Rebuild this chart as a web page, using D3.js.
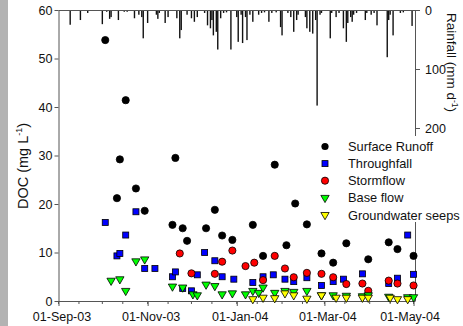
<!DOCTYPE html>
<html><head><meta charset="utf-8">
<script src="https://cdnjs.cloudflare.com/ajax/libs/d3/7.8.5/d3.min.js"></script>
<style>body{margin:0;background:#fff}svg{display:block;font-family:"Liberation Sans",Arial,sans-serif}</style>
</head><body><svg id="c" width="463" height="326"></svg>
<script>
// ---- data ----
const xTickDates = ["2003-09-01","2003-11-01","2004-01-01","2004-03-01","2004-05-01"];
const docTicks = [0,10,20,30,40,50,60];
const rainTicks = [0,100,200];

const surfaceDates = ["2003-10-03","2003-10-11","2003-10-13","2003-10-17","2003-10-24","2003-10-30","2003-11-18","2003-11-20","2003-11-25","2003-11-28","2003-12-11","2003-12-17","2003-12-22","2003-12-29","2004-01-12","2004-01-19","2004-01-27","2004-02-04","2004-02-10","2004-02-18","2004-02-28","2004-03-07","2004-03-16","2004-03-31","2004-04-14","2004-04-20","2004-05-01"];
const surfaceDOC = [53.8,21.2,29.2,41.4,23.2,18.6,15.7,29.5,15.0,12.4,15.0,18.8,13.5,12.6,15.7,9.3,28.1,11.5,20.1,15.8,9.8,7.9,11.9,8.6,12.1,10.7,9.3];

const throughDates = ["2003-10-03","2003-10-11","2003-10-13","2003-10-17","2003-10-24","2003-10-30","2003-11-06","2003-11-18","2003-11-20","2003-11-25","2003-12-01","2003-12-05","2003-12-10","2003-12-17","2003-12-22","2003-12-30","2004-01-12","2004-01-19","2004-01-26","2004-02-03","2004-02-09","2004-02-18","2004-02-28","2004-03-07","2004-03-14","2004-03-27","2004-04-14","2004-04-20","2004-04-27","2004-05-01"];
const throughDOC = [16.2,9.3,9.8,13.6,18.4,6.7,6.7,5.0,6.0,2.6,2.1,5.4,10.0,8.3,5.0,4.5,3.8,5.0,5.4,4.5,4.0,4.8,3.2,4.0,4.5,5.6,3.6,4.7,13.6,5.5];

const stormDates = ["2003-11-23","2003-12-01","2003-12-17","2003-12-22","2003-12-29","2004-01-07","2004-01-13","2004-01-19","2004-01-27","2004-02-03","2004-02-09","2004-02-18","2004-02-28","2004-03-07","2004-03-16","2004-03-27","2004-03-31","2004-04-14","2004-04-20","2004-05-01"];
const stormDOC = [9.8,5.7,5.6,8.1,10.4,7.2,7.9,4.3,9.3,6.7,4.9,5.8,5.6,4.9,3.5,3.6,2.1,4.2,3.6,3.2];

const baseDates = ["2003-10-07","2003-10-13","2003-10-17","2003-10-24","2003-10-30","2003-11-18","2003-11-25","2003-12-02","2003-12-05","2003-12-11","2003-12-17","2003-12-22","2003-12-29","2004-01-07","2004-01-12","2004-01-16","2004-01-19","2004-01-27","2004-02-03","2004-02-09","2004-02-18","2004-02-28","2004-03-07","2004-03-16","2004-03-27","2004-03-31","2004-04-14","2004-04-27","2004-05-01"];
const baseDOC = [4.2,4.5,2.1,8.2,8.6,3.0,2.8,1.4,1.2,3.4,3.1,1.4,1.6,1.4,2.1,1.7,2.8,1.7,2.1,1.9,2.1,1.2,1.2,1.1,1.0,1.2,0.9,0.8,0.8];

const seepDates = ["2004-01-12","2004-01-19","2004-01-27","2004-02-03","2004-02-09","2004-02-18","2004-02-28","2004-03-09","2004-03-16","2004-03-27","2004-03-31","2004-04-15","2004-04-20","2004-04-27"];
const seepDOC = [0.4,0.7,0.6,1.6,1.2,0.5,1.2,0.7,0.7,0.7,0.7,0.7,0.4,0.4];

const rainDates = ["2003-09-09","2003-09-16","2003-09-21","2003-10-01","2003-10-04","2003-10-06","2003-10-07","2003-10-12","2003-10-16","2003-10-18","2003-10-23","2003-10-26","2003-10-28","2003-10-29","2003-11-01","2003-11-07","2003-11-08","2003-11-09","2003-11-13","2003-11-15","2003-11-21","2003-11-23","2003-11-24","2003-11-28","2003-12-01","2003-12-03","2003-12-05","2003-12-10","2003-12-12","2003-12-14","2003-12-15","2003-12-16","2003-12-18","2003-12-19","2003-12-21","2003-12-23","2003-12-25","2003-12-28","2004-01-01","2004-01-02","2004-01-04","2004-01-05","2004-01-07","2004-01-08","2004-01-10","2004-01-12","2004-01-16","2004-01-18","2004-01-20","2004-01-23","2004-01-25","2004-01-28","2004-01-31","2004-02-01","2004-02-05","2004-02-07","2004-02-09","2004-02-11","2004-02-12","2004-02-17","2004-02-18","2004-02-20","2004-02-22","2004-02-24","2004-02-25","2004-02-27","2004-02-28","2004-03-05","2004-03-06","2004-03-09","2004-03-11","2004-03-14","2004-03-16","2004-03-17","2004-03-19","2004-03-20","2004-03-21","2004-03-23","2004-03-29","2004-03-30","2004-04-02","2004-04-04","2004-04-06","2004-04-13","2004-04-14","2004-04-15","2004-04-17","2004-04-22","2004-04-24","2004-04-30"];
const rainMM = [25,17,5,24,3,15,12,17,3,3,14,8,12,48,22,8,15,5,22,12,14,48,34,8,14,20,12,5,26,31,17,43,37,67,14,5,4,67,12,54,8,56,12,51,8,20,8,5,4,20,5,4,29,43,5,12,37,17,8,12,31,37,40,17,162,8,5,48,5,12,5,31,54,22,12,20,8,5,17,5,8,5,26,80,17,8,43,5,4,27];

const legendNames = ["Surface Runoff","Throughfall","Stormflow","Base flow","Groundwater seeps"];

// ---- drawing ----
const parse = d3.timeParse("%Y-%m-%d");
const svg = d3.select("#c");
const L = 58.5, R = 415, T = 10, B = 301;

svg.append("rect").attr("x",0).attr("y",0).attr("width",8).attr("height",326).attr("fill","#b3b3b3");

const x = d3.scaleTime().domain([parse("2003-09-01"), parse("2004-05-02")]).range([L, R]);
const y = d3.scaleLinear().domain([0,60]).range([B, T]);
const yr = d3.scaleLinear().domain([0,200]).range([T, 128]);

const axisCol = "#555", txtCol = "#111";

// rainfall bars
svg.append("g").selectAll("rect").data(rainDates.map((d,i)=>({d:parse(d),v:rainMM[i]})))
  .join("rect").attr("x",d=>x(d.d)-0.7).attr("width",1.4).attr("y",T)
  .attr("height",d=>yr(d.v)-T).attr("fill","#111");

// top border
svg.append("line").attr("x1",L).attr("x2",R).attr("y1",T+0.5).attr("y2",T+0.5).attr("stroke",axisCol);
// right border (DOC panel)
svg.append("line").attr("x1",R+0.5).attr("x2",R+0.5).attr("y1",T).attr("y2",B).attr("stroke",axisCol);

function style(g){
  g.selectAll(".domain").attr("stroke",axisCol);
  g.selectAll(".tick line").attr("stroke",axisCol);
  g.selectAll("text").attr("fill",txtCol).attr("font-size","12.5px").attr("font-family",'"Liberation Sans",Arial,sans-serif');
}
// left axis
const gl = svg.append("g").attr("transform",`translate(${L},0)`)
  .call(d3.axisLeft(y).tickValues(docTicks).tickSize(4).tickSizeOuter(0).tickPadding(2));
style(gl);
// bottom axis
const gb = svg.append("g").attr("transform",`translate(0,${B})`)
  .call(d3.axisBottom(x).tickValues(xTickDates.map(parse)).tickFormat(d3.timeFormat("%d-%b-%y")).tickSize(5).tickSizeOuter(0).tickPadding(6));
style(gb);
gb.selectAll(".tick text").attr("dx",(d,i,n)=> i===n.length-1 ? -4 : 3);
// minor ticks
const minor = d3.timeDay.every(1).range(parse("2003-09-01"), parse("2004-05-02")).filter(d=>d.getDate()===15 || d.getDate()===1);
svg.append("g").selectAll("line").data(minor).join("line")
  .attr("x1",d=>x(d)).attr("x2",d=>x(d)).attr("y1",B).attr("y2",B+3).attr("stroke",axisCol);

// right rainfall axis
const gr = svg.append("g").attr("transform",`translate(${R},0)`)
  .call(d3.axisRight(yr).tickValues(rainTicks).tickSize(5).tickSizeOuter(0).tickPadding(5));
style(gr);

// titles
svg.append("text").attr("transform","translate(28,166) rotate(-90)").attr("text-anchor","middle")
  .attr("font-size","14.5px").attr("fill",txtCol)
  .html('DOC (mg L<tspan font-size="9px" dy="-6">-1</tspan><tspan dy="6">)</tspan>');
svg.append("text").attr("transform","translate(447,13) rotate(90)").attr("text-anchor","start")
  .attr("font-size","13.5px").attr("fill",txtCol)
  .html('Rainfall (mm d<tspan font-size="8.5px" dy="-5">-1</tspan><tspan dy="5">)</tspan>');

// series
const tri = d3.symbol().type(d3.symbolTriangle).size(30);
function circles(dates, vals, fill, stroke){
  svg.append("g").selectAll("circle").data(dates.map((d,i)=>({d:parse(d),v:vals[i]}))).join("circle")
    .attr("cx",d=>x(d.d)).attr("cy",d=>y(d.v)).attr("r",3.6).attr("fill",fill)
    .attr("stroke",stroke).attr("stroke-width",0.8);
}
function squares(dates, vals, fill){
  svg.append("g").selectAll("rect").data(dates.map((d,i)=>({d:parse(d),v:vals[i]}))).join("rect")
    .attr("x",d=>x(d.d)-3).attr("y",d=>y(d.v)-3).attr("width",6).attr("height",6).attr("fill",fill)
    .attr("stroke","#000").attr("stroke-width",0.8);
}
function tris(dates, vals, fill){
  svg.append("g").selectAll("path").data(dates.map((d,i)=>({d:parse(d),v:vals[i]}))).join("path")
    .attr("d",tri).attr("transform",d=>`translate(${x(d.d)},${y(d.v)}) rotate(180)`).attr("fill",fill)
    .attr("stroke","#000").attr("stroke-width",0.8);
}
circles(surfaceDates, surfaceDOC, "#000", "#000");
squares(throughDates, throughDOC, "#0000ff");
circles(stormDates, stormDOC, "#ff0000", "#000");
tris(baseDates, baseDOC, "#00ff00");
tris(seepDates, seepDOC, "#ffff00");

// legend
const lg = svg.append("g");
lg.append("rect").attr("x",318).attr("y",136).attr("width",145).attr("height",86).attr("fill","#fff");
const ly = d => 146.5 + d*17.1;
legendNames.forEach((n,i)=>{
  const cy = ly(i), cx = 325;
  if(i===0) lg.append("circle").attr("cx",cx).attr("cy",cy).attr("r",3.6).attr("fill","#000");
  if(i===1) lg.append("rect").attr("x",cx-3).attr("y",cy-3).attr("width",6).attr("height",6).attr("fill","#0000ff").attr("stroke","#000").attr("stroke-width",0.8);
  if(i===2) lg.append("circle").attr("cx",cx).attr("cy",cy).attr("r",3.6).attr("fill","#ff0000").attr("stroke","#000").attr("stroke-width",0.8);
  if(i>=3) lg.append("path").attr("d",tri).attr("transform",`translate(${cx},${cy}) rotate(180)`).attr("fill",i===3?"#00ff00":"#ffff00").attr("stroke","#000").attr("stroke-width",0.8);
  lg.append("text").attr("x",348).attr("y",cy+4.6).attr("font-size","12.8px").attr("fill",txtCol).text(n);
});
</script></body></html>
